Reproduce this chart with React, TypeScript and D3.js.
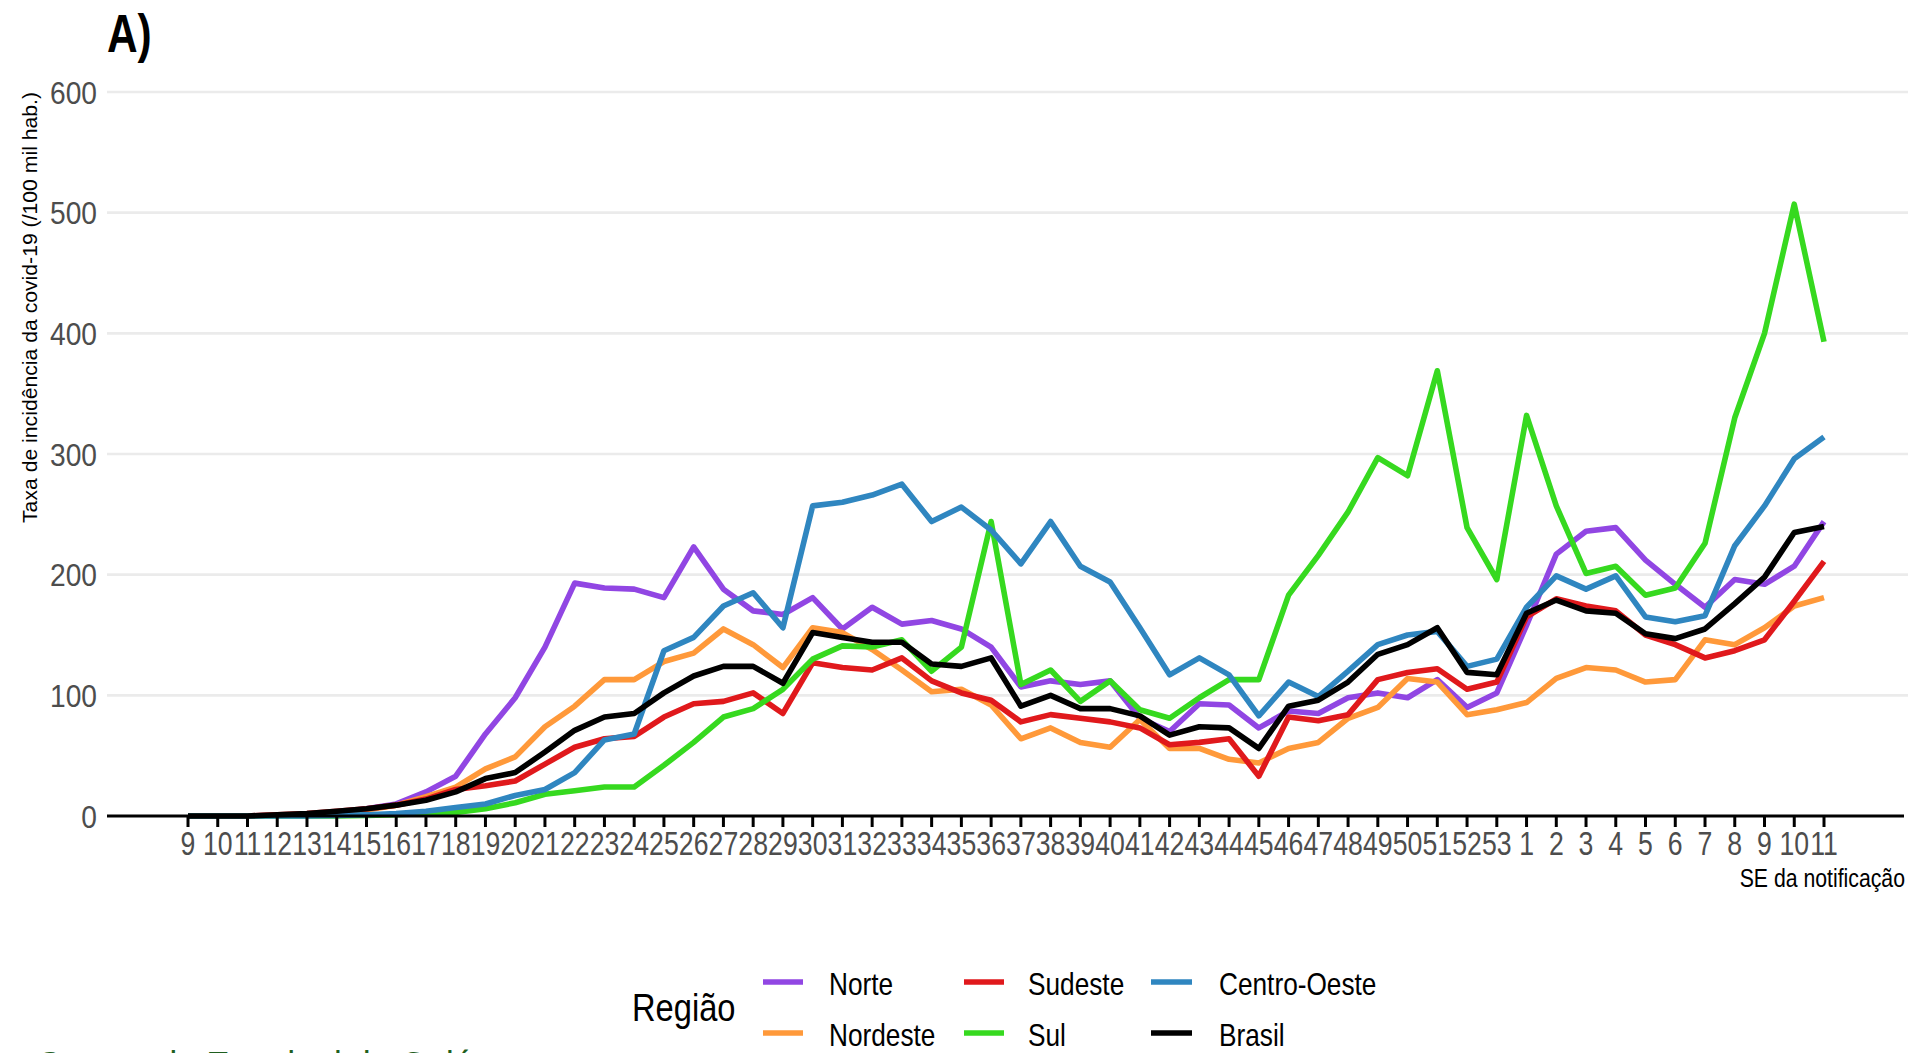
import React from "react";
import * as d3 from "d3";

// ---------- data ----------
const weekLabels: string[] = [
  "9","10","11","12","13","14","15","16","17","18","19","20","21","22","23","24","25","26","27","28",
  "29","30","31","32","33","34","35","36","37","38","39","40","41","42","43","44","45","46","47","48",
  "49","50","51","52","53","1","2","3","4","5","6","7","8","9","10","11",
];

const norte: number[] = [
  0,0,0,0.5,1,3,6,10,20,33,
  68,98,140,193,189,188,181,223,188,170,
  167,181,155,173,159,162,155,140,107,112,
  109,112,81,70,93,92,73,87,85,98,
  102,98,113,90,102,158,217,236,239,212,
  192,173,196,192,207,244,
];
const nordeste: number[] = [
  0,0,0,0.5,1,3,5,9,16,24,
  39,49,74,91,113,113,128,135,155,142,
  123,156,152,138,121,103,105,92,64,73,
  61,57,80,56,56,47,44,56,61,81,
  90,114,111,84,88,94,114,123,121,111,
  113,146,142,156,174,181,
];
const sudeste: number[] = [
  0,0,0,1,2,4,6,9,14,22,
  25,29,43,57,64,66,82,93,95,102,
  85,127,123,121,131,112,102,96,78,84,
  81,78,73,59,61,64,33,82,79,84,
  113,119,122,105,111,165,180,174,170,150,
  142,131,137,146,178,211,
];
const sul: number[] = [
  0,0,0,0,0,0,0.5,1,2,3,
  6,11,18,21,24,24,42,61,82,89,
  105,130,141,140,146,120,140,244,109,121,
  95,112,88,81,98,113,113,183,216,252,
  297,282,369,239,196,332,257,201,207,183,
  189,226,330,400,507,393,
];
const centroOeste: number[] = [
  0,0,0,0,0,0.5,1,2,4,7,
  10,17,22,36,63,68,137,148,174,185,
  156,257,260,266,275,244,256,237,209,244,
  207,194,156,117,131,117,83,111,99,120,
  142,150,153,124,130,173,199,188,199,165,
  161,166,224,257,296,314,
];
const brasil: number[] = [
  0,0,0,1,2,4,6,9,13,20,
  31,36,53,71,82,85,102,116,124,124,
  110,152,148,144,144,126,124,131,91,100,
  89,89,83,67,74,73,56,91,96,111,
  134,142,156,119,117,168,179,170,168,151,
  147,155,176,198,235,240,
];

const regionNames: string[] = ["Norte", "Nordeste", "Sudeste", "Sul", "Centro-Oeste", "Brasil"];
const regionColors: string[] = ["#9146E3", "#FF993A", "#E0191C", "#36D91F", "#2F86C0", "#000000"];
const yTicks: number[] = [0, 100, 200, 300, 400, 500, 600];

const FONT = "'Liberation Sans', Arial, Helvetica, sans-serif";

function T(props: {
  x: number; y: number; sx?: number; anchor?: string; size: number; weight?: string | number;
  fill?: string; children: React.ReactNode;
}) {
  const { x, y, sx = 1, anchor = "start", size, weight = "normal", fill = "#000", children } = props;
  return (
    <text
      transform={`translate(${x},${y}) scale(${sx},1)`}
      textAnchor={anchor as any}
      fontSize={size}
      fontWeight={weight as any}
      fill={fill}
      fontFamily={FONT}
    >
      {children}
    </text>
  );
}

export default function App() {
  const W = 1908;
  const H = 1053;
  const series = [norte, nordeste, sudeste, sul, centroOeste, brasil];

  const x = d3.scalePoint<number>().domain(d3.range(weekLabels.length)).range([188, 1824]);
  const y = d3.scaleLinear().domain([0, 600]).range([816, 92]);

  const line = d3
    .line<number>()
    .x((_, i) => x(i) as number)
    .y((d) => y(d));

  const legendCols = [
    { key0: 763, key1: 803, text: 829 },
    { key0: 964, key1: 1004, text: 1028 },
    { key0: 1151, key1: 1192, text: 1219 },
  ];
  const legendRows = [982, 1033];

  return (
    <svg
      width={W}
      height={H}
      style={{ position: "absolute", left: 0, top: 0, display: "block", background: "#fff" }}
    >
      <rect x={0} y={0} width={W} height={H} fill="#fff" />

      {/* gridlines */}
      {yTicks.slice(1).map((t) => (
        <line key={t} x1={107} x2={W} y1={y(t)} y2={y(t)} stroke="#EBEBEB" strokeWidth={2.6} />
      ))}

      {/* title */}
      <T x={107} y={52} size={53} weight="bold" sx={0.8}>A)</T>

      {/* y tick labels */}
      {yTicks.map((t) => (
        <T key={t} x={97} y={y(t) + 11.5} size={32} sx={0.88} anchor="end" fill="#4D4D4D">
          {t}
        </T>
      ))}

      {/* y axis title */}
      <text
        transform="translate(37,307.5) rotate(-90)"
        textAnchor="middle"
        fontSize={21}
        fontFamily={FONT}
        fill="#000"
        textLength={431}
        lengthAdjust="spacingAndGlyphs"
      >
        Taxa de incidência da covid-19 (/100 mil hab.)
      </text>

      {/* lines */}
      {series.map((s, k) => (
        <path
          key={regionNames[k]}
          d={line(s) || ""}
          fill="none"
          stroke={regionColors[k]}
          strokeWidth={5.6}
          strokeLinejoin="round"
          strokeLinecap="butt"
        />
      ))}

      {/* x axis */}
      <line x1={107} x2={1904} y1={y(0)} y2={y(0)} stroke="#000" strokeWidth={3} />
      {weekLabels.map((lab, i) => (
        <g key={i}>
          <line x1={x(i)} x2={x(i)} y1={y(0)} y2={y(0) + 11} stroke="#000" strokeWidth={3} />
          <T x={x(i) as number} y={855} size={32.5} sx={0.82} anchor="middle" fill="#4D4D4D">
            {lab}
          </T>
        </g>
      ))}
      <T x={1905} y={887} size={25.6} sx={0.83} anchor="end">SE da notificação</T>

      {/* legend */}
      <T x={632} y={1021} size={38} sx={0.86}>Região</T>
      {regionNames.map((name, k) => {
        const col = legendCols[Math.floor(k / 2)];
        const cy = legendRows[k % 2];
        return (
          <g key={name}>
            <line x1={col.key0} x2={col.key1} y1={cy} y2={cy} stroke={regionColors[k]} strokeWidth={5.5} />
            <T x={col.text} y={cy + 12.5} size={32} sx={0.82}>{name}</T>
          </g>
        );
      })}

      {/* source line, cut off at the bottom edge as in the reference */}
      <T x={38} y={1080} size={40} sx={0.87} fill="#1f5f1f">Secretaria Estadual de Goiás</T>
    </svg>
  );
}
